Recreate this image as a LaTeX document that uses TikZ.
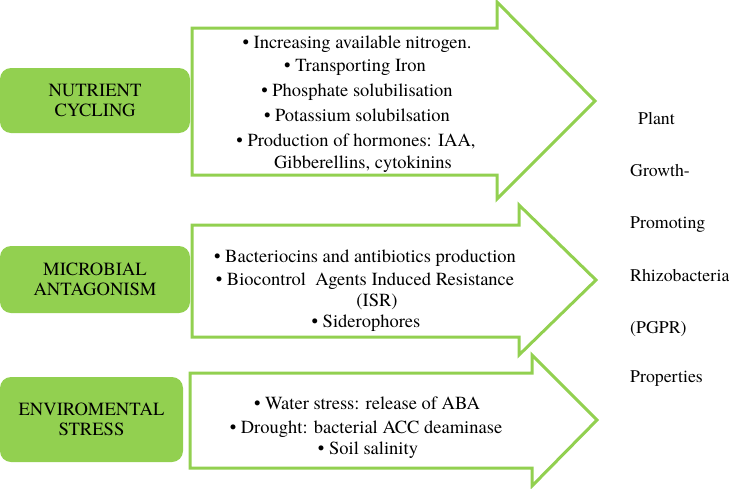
\documentclass[tikz,border=0pt]{standalone}
\usepackage{fontspec}
\setmainfont{texgyretermes}[Extension=.otf, UprightFont=*-regular, BoldFont=*-bold, ItalicFont=*-italic, BoldItalicFont=*-bolditalic]
\definecolor{lgreen}{HTML}{92D050}
\begin{document}
\begin{tikzpicture}[x=1pt,y=-1pt,
  catbox/.style={fill=lgreen, rounded corners=11pt, inner sep=0pt, align=center,
    font=\fontsize{18.6}{20.5}\selectfont},
  bigarrow/.style={draw=lgreen, line width=3pt, fill=white, line join=miter},
  item/.style={anchor=base, inner sep=0pt, font=\fontsize{18.5}{21}\selectfont},
  side/.style={anchor=base west, inner sep=0pt, font=\fontsize{17.8}{21}\selectfont}]
\useasboundingbox (0,0) rectangle (729,488);
% arrows
\draw[bigarrow] (192,28) -- (497,28) -- (497,2) -- (595,101) -- (497,199) -- (497,175) -- (192,175) -- cycle;
\draw[bigarrow] (192,225) -- (519,225) -- (519,205) -- (596,280) -- (519,355) -- (519,337) -- (192,337) -- cycle;
\draw[bigarrow] (190,373) -- (532,373) -- (532,355) -- (597,420) -- (532,486) -- (532,468) -- (190,468) -- cycle;
% category boxes
\node[catbox, minimum width=190pt, minimum height=65pt] (nc) at (95,100.5) {NUTRIENT\\CYCLING};
\node[catbox, minimum width=190pt, minimum height=67pt] (ma) at (95,279.5) {MICROBIAL\\ANTAGONISM};
\node[catbox, minimum width=183pt, minimum height=85pt] (es) at (91.5,419.5) {ENVIROMENTAL\\STRESS};
% arrow 1 text
\node[item] (a1) at (357,48) {• Increasing available nitrogen.};
\node[item] (a2) at (355,71) {• Transporting Iron};
\node[item] (a3) at (357,96) {• Phosphate solubilisation};
\node[item] (a4) at (357,121) {• Potassium solubilsation};
\node[item] (a5) at (356,146) {• Production of hormones: IAA,};
\node[item] (a6) at (363,168) {Gibberellins, cytokinins};
% arrow 2 text
\node[item] (b1) at (365,262) {• Bacteriocins and antibiotics production};
\node[item] (b2) at (365,285) {• Biocontrol\ \ Agents Induced Resistance};
\node[item] (b3) at (377,306) {(ISR)};
\node[item] (b4) at (366,327) {• Siderophores};
% arrow 3 text
\node[item] (c1) at (367,409) {• Water stress: release of ABA};
\node[item] (c2) at (366,433) {• Drought: bacterial ACC deaminase};
\node[item] (c3) at (368,454) {• Soil salinity};
% side labels
\node[side] (s1) at (638,124) {Plant};
\node[side] (s2) at (630,176) {Growth-};
\node[side] (s3) at (630,228) {Promoting};
\node[side] (s4) at (630,281) {Rhizobacteria};
\node[side] (s5) at (630,333) {(PGPR)};
\node[side] (s6) at (630,382) {Properties};
\end{tikzpicture}
\end{document}
